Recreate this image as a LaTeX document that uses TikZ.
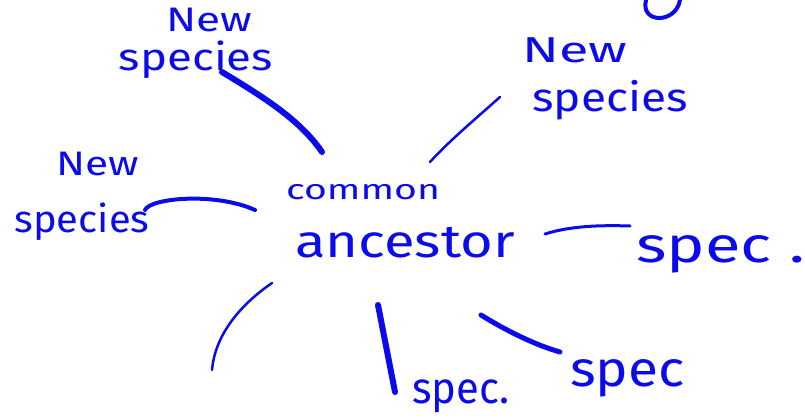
\documentclass[tikz,border=0pt]{standalone}
\usepackage{fontspec}
\setmainfont{Fira Sans}
\definecolor{ink}{RGB}{10,10,235}
\newcommand{\wide}[2]{\scalebox{#1}[1]{#2}}
\begin{document}
\begin{tikzpicture}[x=1pt,y=-1pt,
    pen/.style={ink,line cap=round,line width=#1},
    word/.style={text=ink,inner sep=0pt,font=\fontsize{#1}{#1}\selectfont}]
    \useasboundingbox (0,0) rectangle (805,419);
    \clip (0,0) rectangle (805,419);

    % Labels
    \node[word=28] (common) at (363,192) {\wide{1.4}{common}};
    \node[word=46] (ancestor) at (405,243) {\wide{1.22}{ancestor}};
    \node[word=34] (new1) at (209,20) {\wide{1.3}{New}};
    \node[word=38] (spec1) at (196,60) {\wide{1.2}{species}};
    \node[word=36] (new2) at (575,50) {\wide{1.5}{New}};
    \node[word=40] (spec2) at (610,100) {\wide{1.15}{species}};
    \node[word=34] (new3) at (98,164) {\wide{1.25}{New}};
    \node[word=38] (spec3) at (82,222) {\wide{1.05}{species}};
    \node[word=50, anchor=west] (spec4) at (636,254) {\wide{1.3}{spec\hspace{14pt}.}};
    \node[word=44, anchor=west] (spec5) at (412,396) {\wide{0.95}{spec.}};
    \node[word=50, anchor=west] (spec6) at (570,378) {\wide{1.1}{spec}};

    % Define points
    \coordinate (a1) at (222,72);
    \coordinate (b1) at (322,152);
    \coordinate (a2) at (430,162);
    \coordinate (b2) at (500,97);
    \coordinate (a3) at (145,210);
    \coordinate (b3) at (255,210);
    \coordinate (a4) at (545,234);
    \coordinate (b4) at (630,226);
    \coordinate (a5) at (272,283);
    \coordinate (b5) at (212,370);
    \coordinate (a6) at (378,305);
    \coordinate (b6) at (395,392);
    \coordinate (a7) at (481,315);
    \coordinate (b7) at (560,352);

    % Draw strokes
    \draw[pen=6pt] (a1) .. controls (265,98) and (300,120) .. (b1);
    \draw[pen=2.5pt] (a2) .. controls (450,140) and (480,115) .. (b2);
    \draw[pen=4pt] (a3) .. controls (150,198) and (215,192) .. (b3);
    \draw[pen=3pt] (a4) .. controls (570,226) and (600,225) .. (b4);
    \draw[pen=2.5pt] (a5) .. controls (240,305) and (215,335) .. (b5);
    \draw[pen=6pt] (a6) -- (b6);
    \draw[pen=5pt] (a7) .. controls (505,330) and (535,345) .. (b7);
    \draw[pen=4pt] (646,0) .. controls (640,24) and (676,24) .. (680,0);
\end{tikzpicture}
\end{document}
